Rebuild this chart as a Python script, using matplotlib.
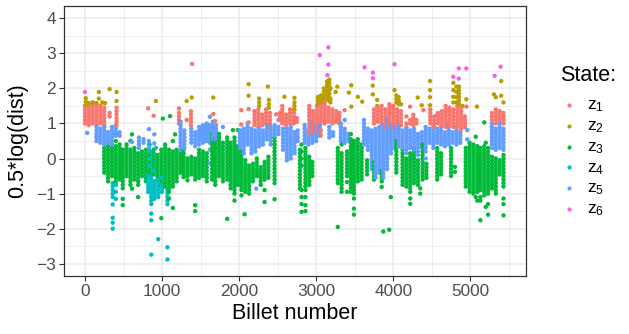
import numpy as np
import matplotlib
matplotlib.use("Agg")
import matplotlib.pyplot as plt
from matplotlib.lines import Line2D

plt.rcParams["font.family"] = ["Liberation Sans", "DejaVu Sans"]
plt.rcParams["mathtext.default"] = "regular"

STATE_LABELS = ["$z_1$", "$z_2$", "$z_3$", "$z_4$", "$z_5$", "$z_6$"]
STATE_COLORS = ["#F8766D", "#B79F00", "#00BA38", "#00BFC4", "#619CFF", "#F564E3"]

# (billet number, [0.5*log(dist) values read at that billet]) per state
z1_cols = [
    (0, [1.0, 1.1, 1.2, 1.3, 1.4, 1.5]), (50, [0.95, 1.05, 1.15, 1.25, 1.35, 1.45, 1.55]),
    (100, [1.0, 1.1, 1.2, 1.3, 1.4, 1.5, 1.6]), (150, [0.62, 0.95, 1.05, 1.15, 1.25, 1.35, 1.45, 1.55]),
    (200, [1.0, 1.1, 1.2, 1.3, 1.4, 1.5]), (250, [0.95, 1.05, 1.15, 1.25, 1.35, 1.45]),
    (320, [1.2, 1.3]), (410, [0.95, 1.05, 1.15, 1.25, 1.35, 1.45]),
    (820, [1.43]), (890, [1.22]), (1220, [1.0, 1.1, 1.2, 1.3, 1.43]), (1320, [1.1]),
    (1375, [0.95, 1.05, 1.15, 1.25, 1.35]), (1665, [1.27]), (1690, [1.07]),
    (2028, [0.97, 1.38]), (2123, [1.03, 1.41]), (2200, [0.95, 1.05, 1.15, 1.25, 1.35]),
    (2250, [0.9, 1.0, 1.1, 1.2, 1.3, 1.4]), (2300, [0.95, 1.05, 1.15, 1.25]),
    (2350, [1.0, 1.1, 1.2, 1.3, 1.4]), (2400, [0.9, 1.0, 1.1, 1.2, 1.3]), (2480, [1.26]),
    (2530, [1.1, 1.2, 1.3]), (2560, [1.0, 1.1, 1.2, 1.3, 1.4, 1.5]), (2610, [0.95, 1.05, 1.15, 1.25]),
    (2660, [1.0, 1.1, 1.2, 1.3, 1.4]), (2710, [1.0, 1.1, 1.2, 1.3, 1.4]), (2750, [1.05, 1.15]),
    (2910, [0.7, 0.8, 0.9, 1.0, 1.1, 1.2, 1.3, 1.4, 1.5]), (2960, [0.75, 0.85, 0.95, 1.05, 1.15, 1.25, 1.35]),
    (3010, [0.8, 0.9, 1.0, 1.1, 1.2, 1.3, 1.4, 1.5]), (3060, [0.66, 0.8, 1.05, 1.15, 1.25, 1.35, 1.45, 1.55, 1.65]),
    (3110, [1.0, 1.1, 1.2, 1.3, 1.4, 1.5, 1.6]), (3160, [1.05, 1.15, 1.25, 1.35, 1.45]),
    (3210, [1.0, 1.1, 1.2, 1.3, 1.4]), (3260, [1.05, 1.15, 1.25, 1.35]), (3300, [1.0, 1.1, 1.2, 1.3]),
    (3369, [1.38]), (3750, [1.0, 1.1, 1.2, 1.3, 1.4]), (3800, [1.05, 1.15, 1.25, 1.35, 1.45]),
    (3850, [1.0, 1.1, 1.2, 1.3, 1.4, 1.5]), (3900, [0.9, 1.0, 1.1, 1.2, 1.3, 1.4]),
    (3950, [0.95, 1.05, 1.15, 1.25, 1.35, 1.45, 1.55]), (4000, [0.9, 1.0, 1.1, 1.2, 1.3, 1.4, 1.5]),
    (4050, [0.9, 1.0, 1.1, 1.2, 1.3, 1.4]), (4100, [0.95, 1.05, 1.15, 1.25, 1.35]),
    (4170, [0.9, 1.0, 1.2]), (4218, [1.0, 1.1, 1.48]), (4260, [0.95, 1.05, 1.15, 1.25]), (4300, [1.0, 1.1]),
    (4391, [1.38]), (4480, [1.0, 1.1, 1.2, 1.3, 1.4]), (4530, [0.9, 1.0, 1.1, 1.2]),
    (4580, [1.0, 1.1, 1.2, 1.3]), (4630, [0.95, 1.05, 1.15, 1.25, 1.35]),
    (4680, [0.9, 1.0, 1.1, 1.2, 1.3, 1.4, 1.5]), (4730, [0.95, 1.05, 1.15, 1.25, 1.35, 1.45]),
    (4780, [0.9, 1.0, 1.1, 1.2, 1.3, 1.4]), (4830, [0.9, 1.0, 1.1, 1.2, 1.3, 1.4, 1.5]),
    (4880, [0.85, 0.95, 1.05, 1.15, 1.25, 1.35, 1.45]), (4930, [0.9, 1.0, 1.1, 1.2]), (4950, [1.48]),
    (5280, [1.1, 1.2, 1.3]), (5330, [1.0, 1.1, 1.2, 1.3, 1.4]), (5380, [1.05, 1.15, 1.25, 1.35]),
    (5430, [1.0, 1.1, 1.2, 1.3]),
]

z2_cols = [
    (10, [1.52, 1.62, 1.72]), (50, [1.58]), (100, [1.6]), (150, [1.58]), (180, [1.71, 1.9]),
    (225, [1.6]), (260, [1.58]), (320, [1.98]), (410, [1.64, 1.9]), (920, [1.64]), (1320, [1.64]),
    (1385, [1.74]), (1665, [1.74]), (2123, [1.79, 2.12]), (2260, [1.5, 1.6, 1.71]), (2373, [2.05]),
    (2386, [1.45, 1.55, 1.67]), (2588, [1.76]), (2718, [1.4, 1.5, 1.6, 1.73]), (3020, [1.55, 1.65, 1.75]),
    (3060, [1.6, 1.7, 1.8]), (3100, [1.6, 1.7, 1.8, 1.9, 2.0]), (3140, [1.7, 1.8, 1.9, 2.0, 2.1, 2.2]),
    (3170, [1.65, 1.75, 1.85, 1.95, 2.05, 2.15, 2.25]), (3185, [1.6, 1.7, 2.0]), (3252, [1.9]),
    (3274, [2.05]), (3425, [1.88]), (3455, [1.48, 2.09]), (3541, [1.76]), (3597, [1.62]),
    (3735, [1.83, 2.08]), (3791, [1.5, 1.67]), (4016, [1.95]), (4040, [1.6, 1.7, 1.8]),
    (4070, [1.55, 1.65, 1.75]), (4100, [1.55]), (4317, [1.74]), (4369, [1.52]),
    (4477, [1.52, 1.75, 1.95, 2.21]), (4779, [1.6, 1.76, 1.95, 2.16]), (4820, [1.6, 1.75, 1.9, 2.05]),
    (4852, [1.55, 1.65, 1.75, 1.85, 1.95, 2.05]), (4900, [1.5]), (4948, [1.69]), (5086, [1.48]),
    (5306, [1.83]), (5330, [1.75]), (5400, [1.79, 2.21]), (5430, [1.6]),
]

z3_cols = [
    (250, [-0.4, -0.3, -0.2, -0.1, 0.0, 0.1, 0.2, 0.3]),
    (300, [-0.65, -0.55, -0.45, -0.35, -0.25, -0.15, -0.05, 0.05, 0.15, 0.25, 0.35, 0.45]),
    (350, [-0.5, -0.4, -0.3, -0.2, -0.1, 0.0, 0.1, 0.2, 0.3]),
    (400, [-0.75, -0.65, -0.55, -0.45, -0.35, -0.25, -0.15, -0.05, 0.05, 0.15, 0.25, 0.35, 0.5, 0.72]),
    (450, [-0.6, -0.5, -0.4, -0.3, -0.2, -0.1, 0.0, 0.1, 0.2, 0.3, 0.4]),
    (490, [-1.33, -1.15, -0.85, -0.75, -0.65, -0.55, -0.45, -0.35, -0.25, -0.15, -0.05, 0.05, 0.15, 0.25]),
    (540, [-0.5, -0.4, -0.3, -0.2, -0.1, 0.0, 0.1, 0.2, 0.3, 0.4]),
    (590, [-0.75, -0.65, -0.55, -0.45, -0.35, -0.25, -0.15, -0.05, 0.05, 0.15, 0.25, 0.5]),
    (610, [-0.86, 0.69]),
    (640, [-0.6, -0.5, -0.4, -0.3, -0.2, -0.1, 0.0, 0.1, 0.2, 0.3]),
    (690, [-1.1, -0.75, -0.65, -0.55, -0.45, -0.35, -0.25, -0.15, -0.05, 0.05, 0.15]),
    (740, [-0.5, -0.4, -0.3, -0.2, -0.1, 0.0, 0.1, 0.2]),
    (790, [-0.65, -0.55, -0.45, -0.35, -0.25, -0.15, -0.05, 0.05, 0.15, 0.25]),
    (840, [-0.4, -0.3, -0.2, -0.1, 0.0, 0.1, 0.2]),
    (890, [-0.45, -0.35, -0.25, -0.15, -0.05, 0.05, 0.15, 0.25]),
    (940, [-0.6, -0.5, -0.4, -0.3, -0.2, -0.1, 0.0, 0.1]),
    (990, [-1.7, -0.75, -0.65, -0.55, -0.45, -0.35, -0.25, -0.15, -0.05, 0.05, 0.15, 0.25]),
    (1010, [1.14]),
    (1040, [-0.8, -0.7, -0.6, -0.5, -0.4, -0.3, -0.2, -0.1, 0.0, 0.1, 0.2, 0.3, 0.4]),
    (1090, [-1.14, -0.95, -0.85, -0.75, -0.65, -0.55, -0.45, -0.35, -0.25, -0.15, -0.05, 0.05, 0.15, 0.25]),
    (1104, [1.21]),
    (1140, [-1.41, -0.8, -0.7, -0.6, -0.5, -0.4, -0.3, -0.2, -0.1, 0.0, 0.1, 0.2, 0.5]),
    (1169, [0.69]),
    (1190, [-0.65, -0.55, -0.45, -0.35, -0.25, -0.15, -0.05, 0.05, 0.15, 0.25]),
    (1240, [-0.4, -0.3, -0.2, -0.1, 0.0, 0.1, 0.2]),
    (1280, [-0.53, -0.45, -0.35, -0.25, -0.15, -0.05, 0.05, 0.15, 0.25]),
    (1330, [-0.62, -0.5, -0.4, -0.3, -0.2, -0.1, 0.0]),
    (1380, [-0.45, -0.35, -0.25, -0.15, -0.05, 0.05]),
    (1430, [-1.5, -1.33, -0.6, -0.5, -0.4, -0.3, -0.2, -0.1, 0.0]),
    (1480, [-0.55, -0.45, -0.35, -0.25, -0.15, -0.05, 0.05, 0.15, 0.25]),
    (1530, [-0.5, -0.4, -0.3, -0.2, -0.1, 0.0, 0.1, 0.2]),
    (1580, [-0.65, -0.55, -0.45, -0.35, -0.25, -0.15, -0.05, 0.05, 0.15]),
    (1650, [-0.6, -0.5, -0.4, -0.3, -0.2, -0.1, 0.0, 0.1, 0.2, 0.3, 0.4, 0.5, 0.6, 0.7]),
    (1690, [-0.75, -0.65, -0.55, -0.45, -0.35, -0.25, -0.15, -0.05, 0.05, 0.15, 0.25, 0.35, 0.45, 0.55]),
    (1740, [-0.5, -0.4, -0.3, -0.2, -0.1, 0.0, 0.1, 0.2, 0.3, 0.4, 0.5, 0.6, 0.7]),
    (1790, [-0.65, -0.55, -0.45, -0.35, -0.25, -0.15, -0.05, 0.05, 0.15, 0.25, 0.35, 0.45]),
    (1845, [-1.72, -0.6, -0.5, -0.4, -0.3, -0.2, -0.1, 0.0, 0.1, 0.2, 0.3, 0.4, 0.5, 0.6]),
    (1890, [-0.85, -0.75, -0.65, -0.55, -0.45, -0.35, -0.25, -0.15, -0.05, 0.05, 0.15, 0.25, 0.35, 0.45]),
    (1920, [0.81]),
    (1940, [-1.2, -1.0, -0.9, -0.8, -0.7, -0.6, -0.5, -0.4, -0.3, -0.2, -0.1, 0.0, 0.1, 0.2, 0.3, 0.4, 0.5, 0.6]),
    (1985, [-0.75, -0.65, -0.55, -0.45, -0.35, -0.25, -0.15, -0.05, 0.05, 0.15, 0.25, 0.35, 0.81]),
    (2030, [-1.05, -0.9, -0.8, -0.7, -0.6, -0.5, -0.4, -0.3, -0.2, -0.1, 0.0, 0.1, 0.2]),
    (2071, [-1.59]),
    (2080, [-0.95, -0.85, -0.75, -0.65, -0.55, -0.45, -0.35, -0.25, -0.15, -0.05]),
    (2130, [-1.0, -0.9, -0.8, -0.7, -0.6, -0.5, -0.4, -0.3, -0.2]),
    (2180, [-0.65, -0.55, -0.45, -0.35, -0.25, -0.15]),
    (2230, [-0.5, -0.4, -0.3, -0.2, -0.1, 0.0]),
    (2280, [-0.75, -0.65, -0.55, -0.45, -0.35, -0.25]),
    (2330, [-1.24, -0.9, -0.6, -0.5, -0.4, -0.3, -0.2, -0.1]),
    (2380, [-0.55, -0.45, -0.35, -0.25, -0.15, -0.05, 0.05]),
    (2460, [-1.16, -0.7, -0.6, -0.5, -0.4, -0.3, -0.2, -0.1, 0.0, 0.1, 0.2, 0.3, 0.4, 0.5, 0.6]),
    (2790, [-0.85, -0.75, -0.65, -0.55, -0.45, -0.35, -0.25, -0.15, -0.05, 0.05, 0.15, 0.25]),
    (2810, [-1.52, -1.3, -1.1, -0.9, -0.2, 0.0, 0.2, 0.4]),
    (2860, [-1.5, -1.33, -1.1, -0.9, -0.8, -0.7, -0.6, -0.5, -0.4, -0.3, -0.2, -0.1, 0.0, 0.1, 0.2, 0.3]),
    (2910, [-0.75, -0.65, -0.55, -0.45, -0.35, -0.25, -0.15, -0.05, 0.05]),
    (2950, [-0.5, -0.4, -0.3, -0.2, -0.1]),
    (3280, [-1.95, -0.7, -0.6, -0.5, -0.4, -0.3, -0.2, -0.1, 0.0, 0.1, 0.2, 0.3]),
    (3330, [-0.95, -0.85, -0.75, -0.65, -0.55, -0.45, -0.35, -0.25, -0.15, -0.05, 0.05, 0.15, 0.4]),
    (3400, [-0.95, -0.67, -0.5, -0.4, -0.3, -0.2, -0.1, 0.0, 0.1, 0.2]),
    (3450, [-0.95, -0.85, -0.75, -0.65, -0.55, -0.45, -0.35, -0.25, -0.15, -0.05, 0.05, 0.15, 0.25, 0.35, 0.45, 0.55, 0.7]),
    (3490, [-1.6, -1.43, -1.14, -1.0, -0.9, -0.8, -0.7, -0.6, -0.5, -0.4, -0.3, -0.2, -0.1, 0.0, 0.1, 0.2, 0.3, 0.4, 0.5]),
    (3540, [-0.65, -0.55, -0.45, -0.35, -0.25, -0.15, -0.05, 0.05, 0.15, 0.25, 0.35, 0.45, 0.55]),
    (3590, [-0.6, -0.5, -0.4, -0.3, -0.2, -0.1, 0.0, 0.1, 0.2, 0.3, 0.4]),
    (3660, [-0.45, -0.35, -0.25, -0.15, -0.05]),
    (3750, [-0.6, -0.5, -0.4, -0.3, -0.2, -0.1]),
    (3850, [-0.81, -0.65, -0.55, -0.45, -0.35]),
    (3870, [-2.08]), (3947, [-2.03]), (3968, [-1.1]),
    (4040, [-0.4, -0.3, -0.2, -0.1, 0.0, 0.1, 0.2, 0.3, 0.4, 0.5]),
    (4120, [-0.75, -0.65, -0.55, -0.45, -0.35, -0.25, -0.15, -0.05, 0.05, 0.15, 0.25]),
    (4170, [-0.8, -0.7, -0.6, -0.5, -0.4, -0.3, -0.2, -0.1, 0.0]),
    (4220, [-1.29, -1.14, -0.95, -0.85, -0.75, -0.65, -0.55, -0.45, -0.35, -0.25, -0.15, -0.05, 0.05, 0.15]),
    (4270, [-0.7, -0.6, -0.5, -0.4, -0.3, -0.2, -0.1, 0.0, 0.1, 0.2, 0.3]),
    (4320, [-0.75, -0.65, -0.55, -0.45, -0.35, -0.25, -0.15, -0.05]),
    (4350, [-1.0, -0.85]),
    (4380, [-0.6, -0.5, -0.4, -0.3, -0.2, -0.1, 0.0, 0.1, 0.2, 0.3, 0.4]),
    (4430, [-0.55, -0.45, -0.35, -0.25, -0.15]),
    (4570, [-0.6, -0.5, -0.4, -0.3, -0.2, -0.1, 0.0, 0.1, 0.2, 0.3]),
    (4620, [-0.45, -0.35, -0.25, -0.15, -0.05, 0.05, 0.15]),
    (4750, [-0.5, -0.4, -0.3, -0.2, -0.1, 0.0, 0.1, 0.2, 0.3]),
    (4800, [-0.38, -0.24]),
    (4940, [-0.8, -0.7, -0.6, -0.5, -0.4, -0.3, -0.2, -0.1, 0.0, 0.1, 0.2, 0.3]),
    (4990, [-0.95, -0.85, -0.75, -0.65, -0.55, -0.45, -0.35, -0.25, -0.15, -0.05, 0.05, 0.15, 0.25, 0.35, 0.45]),
    (5040, [-1.0, -0.9, -0.8, -0.7, -0.6, -0.5, -0.4, -0.3, -0.2, -0.1, 0.0, 0.1, 0.2, 0.3, 0.4]),
    (5070, [-1.1, 0.62]),
    (5090, [-1.2, -0.95, -0.85, -0.75, -0.65, -0.55, -0.45, -0.35, -0.25, -0.15, -0.05, 0.05, 0.15, 0.25, 0.35]),
    (5130, [-1.76, -1.2, -1.1, -0.9, -0.8, -0.7, -0.6, -0.5, -0.4, -0.3, -0.2, -0.1, 0.0, 0.1, 0.2, 0.3]),
    (5180, [-1.05, -0.95, -0.85, -0.75, -0.65, -0.55, -0.45, -0.35, -0.25, -0.15, -0.05, 0.05, 0.15, 0.25, 0.35, 1.03]),
    (5200, [-1.38, 0.45]),
    (5230, [-1.6, -1.3, -1.0, -0.9, -0.8, -0.7, -0.6, -0.5, -0.4, -0.3, -0.2, -0.1, 0.0, 0.1, 0.2, 0.3]),
    (5280, [-0.85, -0.75, -0.65, -0.55, -0.45, -0.35, -0.25, -0.15, -0.05, 0.05]),
    (5330, [-1.0, -0.9, -0.8, -0.7, -0.6, -0.5, -0.4, -0.3, -0.2, -0.1, 0.0]),
    (5380, [-0.45, -0.35, -0.25, -0.15, -0.05]),
    (5430, [-1.62, -1.3, -1.14, -0.8, -0.7, -0.6, -0.5, -0.4, -0.3, -0.2, -0.1, 0.0, 0.1]),
]

z4_cols = [
    (360, [-0.7, -0.8, -0.9, -1.0, -1.1, -1.31, -1.69, -1.83, -2.0]), (400, [-0.75, -0.95, -1.15]),
    (820, [-0.45, -0.55, -0.65, -0.75, -0.85, -0.95]), (840, [0.4, 0.2, 0.0, -0.2]),
    (860, [-0.5, -0.6, -0.7, -0.8, -0.9, -1.0, -1.1, -1.2, -1.3, -1.57, -1.76, -2.74]),
    (900, [-0.35, -0.65, -0.75, -0.85, -0.95, -1.05, -1.15]), (920, [0.3, 0.1, -0.1, -0.3]),
    (950, [-0.6, -0.7, -0.8, -0.9, -1.0, -1.1, -2.3]), (1000, [-0.55, -0.75, -0.85, -0.95]),
    (1070, [-0.9, -1.0, -1.1, -1.2, -1.3, -2.53, -2.88]),
]

z5_cols = [
    (30, [0.73]), (150, [0.5, 0.6, 0.7, 0.8, 0.9]), (200, [0.45, 0.55, 0.65, 0.75, 0.85]),
    (250, [0.4, 0.5, 0.6, 0.7, 0.8, 0.9]), (300, [0.45, 0.55, 0.65, 0.75]),
    (350, [0.4, 0.5, 0.6, 0.7, 0.8, 0.9]), (400, [0.65, 0.75, 0.85, 0.95]), (450, [0.65, 0.75]),
    (610, [0.47]), (700, [0.3, 0.4, 0.5, 0.6]), (760, [0.45, 0.55]), (830, [0.3, 0.4, 0.5, 0.84]),
    (900, [0.43, 0.69]), (1240, [0.25, 0.35, 0.45, 0.55, 0.65, 0.75, 0.85, 0.95, 1.05]),
    (1290, [0.3, 0.4, 0.5, 0.6, 0.7, 0.8]), (1380, [0.45, 0.55, 0.65, 0.75, 0.85]),
    (1430, [0.35, 0.45, 0.55, 0.65, 0.75]), (1480, [0.4, 0.5, 0.6, 0.7, 0.8, 0.9]),
    (1505, [0.55, 0.65, 0.75, 0.85]),
    (1530, [0.45, 0.55, 0.65, 0.75, 0.85, 0.95]), (1555, [0.5, 0.6, 0.7, 0.8, 0.9]),
    (1580, [0.5, 0.6, 0.7, 0.8, 0.9, 1.0]),
    (1620, [-0.14, 0.25, 0.45, 0.55, 0.65, 0.75, 0.85, 0.95, 1.19]),
    (1660, [0.55, 0.65, 0.75, 0.85, 0.95, 1.05]), (1700, [0.55, 0.65, 0.75, 0.85, 0.95]), (1790, [0.9]),
    (2010, [0.3, 0.4, 0.5, 0.6, 0.7, 0.8]), (2060, [0.15, 0.25, 0.35, 0.45, 0.55, 0.65, 0.75, 0.85]),
    (2110, [0.4, 0.5, 0.6, 0.7, 0.8, 0.9, 1.0]), (2160, [0.15, 0.25, 0.35, 0.45, 0.55, 0.65, 0.75, 0.85]),
    (2210, [0.2, 0.3, 0.4, 0.5, 0.6, 0.7, 0.8]), (2222, [-0.86]),
    (2260, [0.35, 0.45, 0.55, 0.65, 0.75, 0.85]), (2310, [0.4, 0.5, 0.6, 0.7, 0.8]),
    (2360, [0.55, 0.65, 0.75, 0.85, 0.95]), (2410, [0.4, 0.5, 0.6, 0.7, 0.8, 0.9]),
    (2460, [0.65, 0.75, 0.85, 0.95]), (2510, [0.7, 0.8, 0.9, 1.1]),
    (2570, [0.25, 0.35, 0.45, 0.55, 0.65, 0.75, 0.85]),
    (2620, [-0.05, 0.05, 0.15, 0.25, 0.35, 0.45, 0.55, 0.65, 0.75, 0.85]),
    (2670, [0.0, 0.1, 0.2, 0.3, 0.4, 0.5, 0.6, 0.7, 0.8, 0.9]),
    (2720, [0.15, 0.25, 0.35, 0.45, 0.55, 0.65, 0.75]), (2760, [0.5, 0.6, 0.7, 0.8]),
    (2850, [0.45, 0.55, 0.65, 0.75, 0.85, 0.95]), (2900, [0.4, 0.5, 0.6, 0.7, 0.8]),
    (2950, [0.45, 0.55, 0.65, 0.75, 0.85, 0.95, 1.05]), (3000, [0.5, 0.6, 0.7, 0.8, 0.9]),
    (3050, [0.65, 0.75, 0.85, 0.95]), (3170, [0.6, 0.7, 0.8, 0.9]), (3220, [0.65, 0.75]),
    (3320, [0.5, 0.6, 0.7, 0.8, 0.9, 1.0]), (3370, [0.45, 0.55, 0.65, 0.75, 0.85, 1.1]),
    (3420, [0.5, 0.6, 0.7]), (3620, [0.4, 0.5, 0.6, 0.7, 0.8, 0.9, 1.0, 1.1]),
    (3670, [0.25, 0.35, 0.45, 0.55, 0.65, 0.75, 0.85]),
    (3720, [-0.3, -0.2, -0.1, 0.0, 0.1, 0.2, 0.3, 0.4, 0.5, 0.6, 0.7, 0.8]),
    (3770, [-0.55, -0.45, -0.35, -0.25, -0.15, -0.05, 0.05, 0.15, 0.25, 0.35, 0.45, 0.55, 0.65, 0.75, 0.85]),
    (3820, [-0.4, -0.3, -0.2, -0.1, 0.0, 0.1, 0.2, 0.3, 0.4, 0.5, 0.6, 0.7, 0.8, 0.9]),
    (3870, [-0.55, -0.45, -0.35, -0.25, -0.15, -0.05, 0.05, 0.15, 0.25, 0.35, 0.45, 0.55, 0.65, 0.75, 0.85, 0.95]),
    (3920, [-0.3, -0.2, -0.1, 0.0, 0.1, 0.2, 0.3, 0.4, 0.5, 0.6, 0.7, 0.8, 0.9, 1.0, 1.1]),
    (3970, [0.15, 0.25, 0.35, 0.45, 0.55, 0.65, 0.75, 0.85, 0.95]),
    (4020, [0.3, 0.4, 0.5, 0.6, 0.7, 0.8, 0.9]), (4070, [0.35, 0.45, 0.55, 0.65, 0.75, 0.85, 0.95]),
    (4120, [0.3, 0.4, 0.5, 0.6, 0.7, 0.8]), (4170, [0.15, 0.25, 0.35, 0.45, 0.55, 0.65, 0.75, 0.85]),
    (4220, [0.3, 0.4, 0.5, 0.6, 0.7, 0.8]), (4270, [0.25, 0.35, 0.45, 0.55, 0.65, 0.75, 0.85]),
    (4320, [0.1, 0.2, 0.3, 0.4, 0.5, 0.6, 0.7]), (4370, [0.35, 0.45, 0.55, 0.65, 0.75]),
    (4420, [0.0, 0.2, 0.3, 0.4, 0.5, 0.6, 0.7, 0.8, 0.9]), (4470, [0.45, 0.55, 0.65, 0.75, 0.85]),
    (4520, [0.3, 0.4, 0.5, 0.6, 0.7, 0.8, 0.9]), (4570, [0.45, 0.55, 0.65, 0.75, 0.85, 1.24]),
    (4620, [0.4, 0.5, 0.6, 0.7, 0.8, 0.9]), (4670, [0.35, 0.45, 0.55, 0.65, 0.75]),
    (4720, [0.4, 0.5, 0.6, 0.7, 0.8, 0.9, 1.0]), (4770, [0.45, 0.55, 0.65, 0.75]),
    (4820, [0.4, 0.5, 0.6, 0.7, 0.8, 0.9]), (4870, [0.45, 0.55, 0.65, 0.75]), (4960, [0.55, 0.81]),
    (5280, [0.3, 0.4, 0.5, 0.6, 0.7, 0.8, 0.9, 1.0]), (5330, [0.25, 0.35, 0.45, 0.55, 0.65, 0.75, 0.85]),
    (5380, [0.3, 0.4, 0.5, 0.6, 0.7, 0.8, 0.9, 1.0]), (5430, [0.25, 0.35, 0.45, 0.55, 0.65, 0.75, 0.85]),
]

z6_cols = [
    (0, [1.9]), (1389, [2.7]), (3046, [2.95]), (3145, [2.38]), (3158, [2.68, 3.17]), (3627, [2.6]),
    (3735, [2.29, 2.45]), (4016, [2.69]), (4779, [2.33]), (4850, [2.28, 2.57]), (4948, [2.57]),
    (5314, [2.36]), (5392, [2.62]),
]

STATE_COLS = [z1_cols, z2_cols, z3_cols, z4_cols, z5_cols, z6_cols]

X_TICKS = [0, 1000, 2000, 3000, 4000, 5000]
Y_TICKS = [-3, -2, -1, 0, 1, 2, 3, 4]


def expand(cols):
    xs, ys = [], []
    for billet, vals in cols:
        xs += [billet] * len(vals)
        ys += vals
    return xs, ys


def main():
    W, H = 629, 334
    fig = plt.figure(figsize=(W / 100, H / 100), dpi=100)
    ax = fig.add_axes([64 / W, 1 - 276 / H, (526 - 64) / W, (276 - 6) / H])

    xs, ys, cs = [], [], []
    for cols, color in zip(STATE_COLS, STATE_COLORS):
        x, y = expand(cols)
        xs += x
        ys += y
        cs += [color] * len(x)
    order = np.argsort(np.array(xs), kind="stable")
    ax.scatter(np.array(xs)[order], np.array(ys)[order], s=10,
               c=np.array(cs)[order], linewidths=0, zorder=3)

    ax.set_xlim(-272, 5722)
    ax.set_ylim(-3.35, 4.35)
    ax.set_xticks(X_TICKS)
    ax.set_yticks(Y_TICKS)
    ax.set_xticks([t + 500 for t in X_TICKS], minor=True)
    ax.set_yticks([t + 0.5 for t in Y_TICKS[:-1]], minor=True)
    ax.set_axisbelow(True)
    ax.grid(which="major", color="#EBEBEB", lw=1.1)
    ax.grid(which="minor", color="#EBEBEB", lw=0.55)
    for sp in ax.spines.values():
        sp.set_color("#333333")
        sp.set_linewidth(0.9)
    ax.tick_params(which="major", length=3.6, width=0.8, color="#333333",
                   labelcolor="#4D4D4D", labelsize=12.4, pad=2)
    ax.tick_params(which="minor", length=0)

    ax.set_xlabel("Billet number", fontsize=15.5, labelpad=3)
    ax.set_ylabel("0.5*log(dist)", fontsize=15.5, labelpad=6)

    # legend
    fig.text(560 / W, 1 - 75.5 / H, "State:", fontsize=15.5, va="center", ha="left")
    for i, (lab, color) in enumerate(zip(STATE_LABELS, STATE_COLORS)):
        yc = 105 + 20.8 * i
        fig.add_artist(Line2D([569.3 / W], [1 - yc / H], marker="o", markersize=3.0,
                              color=color, markeredgewidth=0, transform=fig.transFigure))
        fig.text(587 / W, 1 - (yc + 4.5) / H, lab, fontsize=12.4, va="baseline", ha="left")

    fig.savefig("out.png", dpi=100)


if __name__ == "__main__":
    main()
